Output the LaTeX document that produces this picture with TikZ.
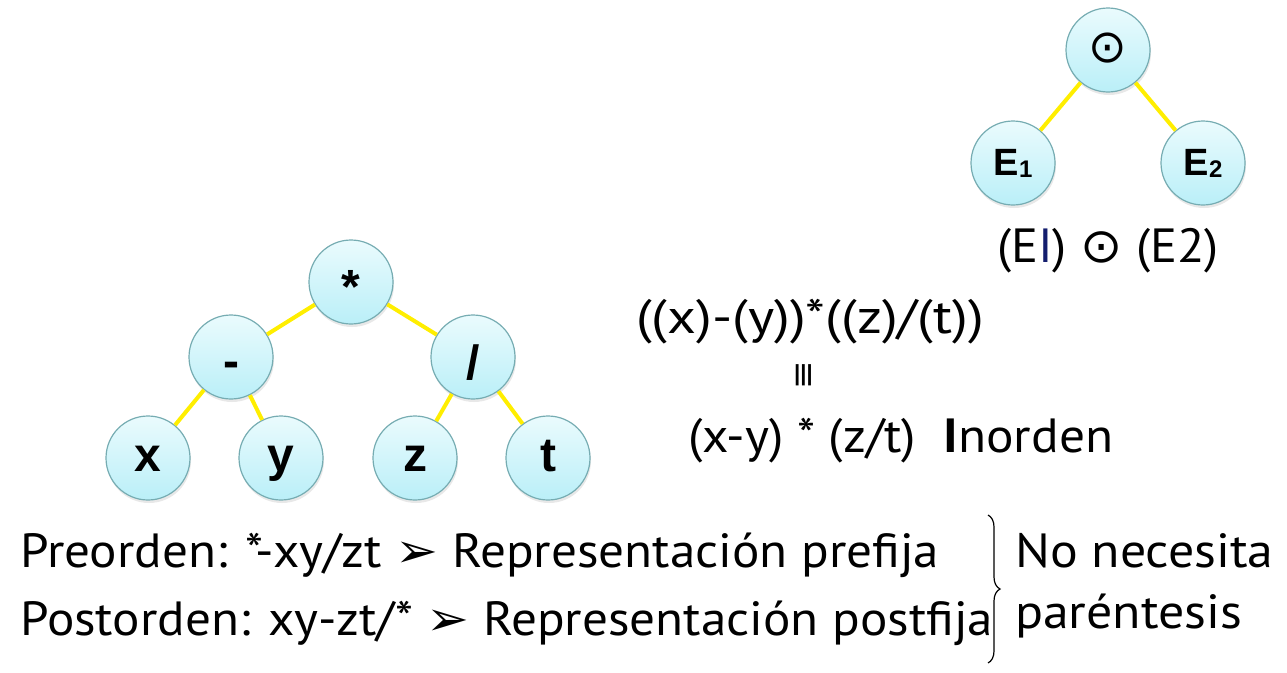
\documentclass[tikz,border=0pt]{standalone}
\usepackage{fontspec}
\setmainfont{PT Sans}
\newfontfamily\nodefont{Liberation Sans}
\newfontfamily\symfont{DejaVu Sans}
\usetikzlibrary{shadows,decorations.pathreplacing}
\definecolor{edgeY}{RGB}{255,238,0}
\definecolor{ctop}{RGB}{234,251,253}
\definecolor{cbot}{RGB}{186,239,248}
\definecolor{cbord}{RGB}{118,172,178}
\definecolor{eblue}{RGB}{20,30,110}
\begin{document}
\begin{tikzpicture}[x=1pt,y=-1pt]
\tikzset{
  tnode/.style={circle, minimum size=84pt, inner sep=0pt, draw=cbord, line width=1.2pt,
    top color=ctop, bottom color=cbot, text height=26pt, text depth=0pt,
    drop shadow={opacity=0.18, shadow xshift=1pt, shadow yshift=-3pt},
    font=\nodefont\bfseries\fontsize{48}{48}\selectfont},
  enode/.style={tnode, text height=24pt, font=\nodefont\bfseries\fontsize{38}{38}\selectfont},
  tedge/.style={draw=edgeY, line width=4pt},
  bigtxt/.style={inner sep=0pt, anchor=base west, font=\fontsize{48}{48}\selectfont},
}
\useasboundingbox (0,0) rectangle (1287,672);
% right tree
\node[tnode, text height=, text depth=, font=\symfont\fontsize{46}{46}\selectfont] (op) at (1108,50) {\raisebox{4pt}{⊙}};
\node[enode] (e1) at (1013,163) {E\raisebox{-2pt}{\fontsize{24}{24}\selectfont 1}};
\node[enode] (e2) at (1203,163) {E\raisebox{-2pt}{\fontsize{24}{24}\selectfont 2}};
\draw[tedge] (op) -- (e1);
\draw[tedge] (op) -- (e2);
\node[inner sep=0pt, anchor=base, font=\fontsize{48}{48}\selectfont] (formula) at (1108,262)
  {\scalebox{1.05}[1]{(E\textcolor{eblue}{I}) {\symfont ⊙} (E2)}};
% main tree
\node[tnode] (mul) at (351,282) {\raisebox{-8pt}{*}};
\node[tnode] (minus) at (231,357) {\raisebox{-7pt}{-}};
\node[tnode] (div) at (473,357) {\raisebox{-9pt}{/}};
\node[tnode] (x) at (148,458) {x};
\node[tnode] (y) at (281,458) {y};
\node[tnode] (z) at (415,458) {z};
\node[tnode] (t) at (548,458) {t};
\draw[tedge] (mul) -- (minus);
\draw[tedge] (mul) -- (div);
\draw[tedge] (minus) -- (x);
\draw[tedge] (minus) -- (y);
\draw[tedge] (div) -- (z);
\draw[tedge] (div) -- (t);
% middle texts
\node[bigtxt] (full) at (636,333) {\scalebox{1.17}[1]{((x)-(y))*((z)/(t))}};
\node[inner sep=0pt, rotate=90, font=\symfont\fontsize{34}{34}\selectfont] (eq) at (805,375) {≡};
\node[bigtxt] (inord) at (688,452) {\scalebox{1.07}[1]{(x-y) * (z/t)\ \ \textbf{I}norden}};
% bottom
\node[bigtxt] (pre) at (20,567) {\scalebox{1.066}[1]{Preorden: *-xy/zt {\symfont ➢} Representación prefija}};
\node[bigtxt] (post) at (20,635) {\scalebox{1.066}[1]{Postorden: xy-zt/* {\symfont ➢} Representación postfija}};
\coordinate (bt) at (988,515);
\coordinate (bb) at (988,663);
\draw[line width=1.2pt, decorate, decoration={brace, amplitude=12pt}] (bt) -- (bb);
\node[bigtxt] (nn) at (1015,567) {\scalebox{1.08}[1]{No necesita}};
\node[bigtxt] (par) at (1015,628) {\scalebox{1.08}[1]{paréntesis}};
\end{tikzpicture}
\end{document}
